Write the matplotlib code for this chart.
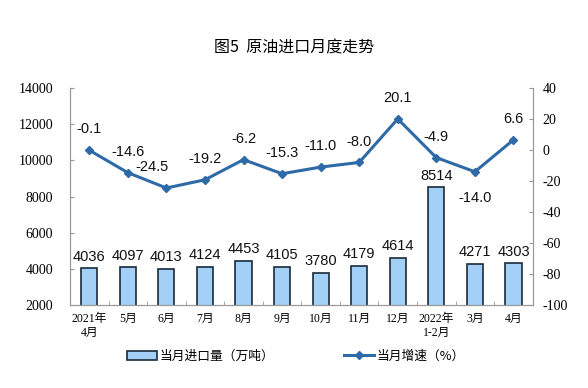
import numpy as np
import matplotlib.pyplot as plt

# data
months = ['2021年\n4月', '5月', '6月', '7月', '8月', '9月', '10月', '11月', '12月',
          '2022年\n1-2月', '3月', '4月']
imports = [4036, 4097, 4013, 4124, 4453, 4105, 3780, 4179, 4614, 8514, 4271, 4303]
growth = [-0.1, -14.6, -24.5, -19.2, -6.2, -15.3, -11.0, -8.0, 20.1, -4.9, -14.0, 6.6]
left_ticks = list(range(2000, 14001, 2000))
right_ticks = list(range(-100, 41, 20))

cjk = ['Noto Sans CJK SC', 'DejaVu Sans']
sans = ['Liberation Sans', 'DejaVu Sans']
serif = ['Liberation Serif', 'Noto Sans CJK SC']
plt.rcParams['font.family'] = serif

fig = plt.figure(figsize=(5.88, 3.88), dpi=100)
ax = fig.add_axes([0.119, 0.214, 0.787, 0.559])
ax2 = ax.twinx()

x = np.arange(len(months))
ax.bar(x, imports, width=0.42, color='#a3d0f7', edgecolor='#1a2a3a',
       linewidth=1.2, label='当月进口量（万吨）', zorder=2)
for xi, v in zip(x, imports):
    ax.text(xi, v + 250, str(v), ha='center', va='bottom', fontsize=10.5,
            family=sans, color='#111111')

ax.set_ylim(2000, 14000)
ax.set_yticks(left_ticks)
ax.set_yticklabels([str(t) for t in left_ticks], family=serif, fontsize=10)
ax.set_xlim(-0.5, len(months) - 0.5)
ax.set_xticks(x)
ax.set_xticklabels(months, family=serif, fontsize=8.5)
ax.set_xticks(np.arange(-0.5, len(months), 1), minor=True)
ax.tick_params(axis='x', which='major', length=0, pad=6)
ax.tick_params(axis='x', which='minor', length=3, direction='in', color='#999999')
ax.tick_params(axis='y', length=3, direction='in', color='#999999', pad=12)

ax2.plot(x, growth, color='#2e6aa8', linewidth=2.2, marker='D', markersize=4,
         label='当月增速（%）', zorder=3)
ax2.set_ylim(-100, 40)
ax2.set_yticks(right_ticks)
ax2.set_yticklabels([str(t) for t in right_ticks], family=serif, fontsize=10)
ax2.tick_params(axis='y', length=3, direction='in', color='#999999', pad=7)

offsets = {2: (-10, 10), 10: (0, -24)}
for i, (xi, v) in enumerate(zip(x, growth)):
    dx, dy = offsets.get(i, (0, 10))
    ax2.annotate(f'{v:.1f}', (xi, v), xytext=(dx, dy), textcoords='offset points',
                 ha='center', va='bottom', fontsize=10.5, family=sans, color='#111111')

for a in (ax, ax2):
    a.spines['top'].set_visible(False)
    for s in ('left', 'right', 'bottom'):
        a.spines[s].set_color('#999999')
ax.set_zorder(ax2.get_zorder() - 1)
ax2.patch.set_visible(False)

fig.text(0.5, 0.877, '图5  原油进口月度走势', ha='center', va='center',
         fontsize=11.5, family=cjk)

h1, l1 = ax.get_legend_handles_labels()
h2, l2 = ax2.get_legend_handles_labels()
fig.legend(h1 + h2, l1 + l2, loc='center', bbox_to_anchor=(0.503, 0.082), ncol=2,
           frameon=False, prop={'family': cjk, 'size': 9.2}, columnspacing=5.5,
           handlelength=2.3, handleheight=0.7, handletextpad=0.2)

fig.savefig('out.png', dpi=100)
